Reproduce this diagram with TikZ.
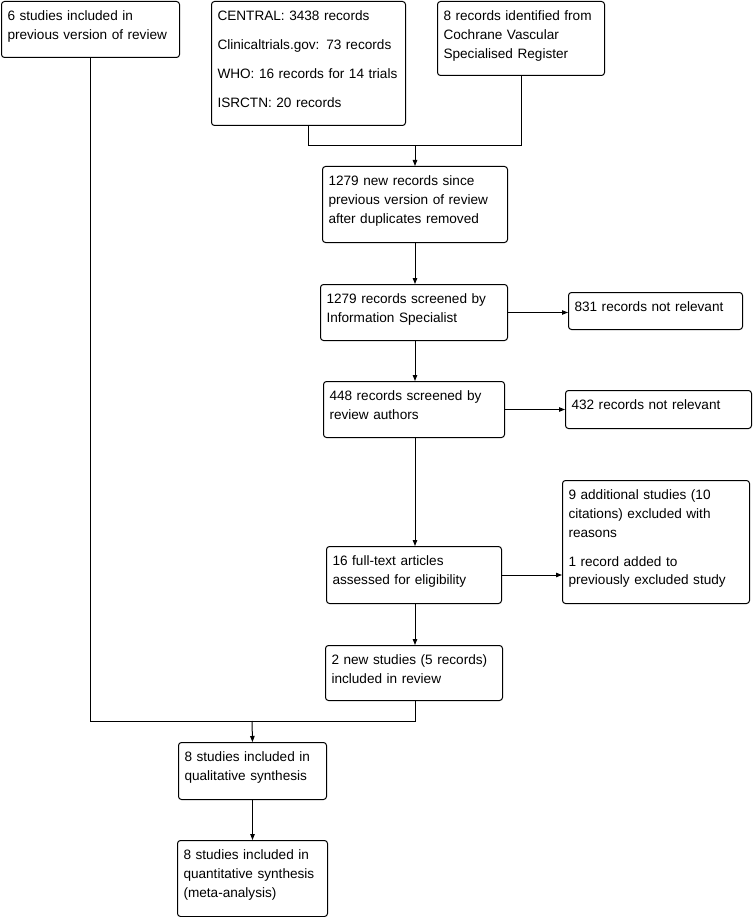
\documentclass[tikz,border=0pt]{standalone}
\usepackage{fontspec}
\setmainfont{Liberation Sans}
\usetikzlibrary{arrows.meta}

\begin{document}
\begin{tikzpicture}[x=1pt, y=-1pt, line width=1pt,
            >={Triangle[length=6pt,width=4.5pt]},
            box/.style 2 args={draw, rounded corners=3pt, anchor=north west,
                         align=left, inner xsep=6pt, inner ysep=0pt,
                         text width=#1, text height=19pt, text depth=#2,
                         font=\fontsize{13.6}{18.8}\selectfont}]
            \useasboundingbox (0,0) rectangle (754,917);

            % sources
            \node[box={166pt}{37pt}] (prev) at (1,1) {6 studies included in\\previous version of review};
            \node[box={182pt}{105pt}] (src) at (211,1) {CENTRAL: 3438 records\\[10.2pt]Clinicaltrials.gov: 73 records\\[10.2pt]WHO: 16 records for 14 trials\\[10.2pt]ISRCTN: 20 records};
            \node[box={155pt}{55pt}] (coch) at (437,1) {8 records identified from\\Cochrane Vascular\\Specialised Register};

            % screening column
            \node[box={173pt}{57pt}] (new) at (322,166) {1279 new records since\\previous version of review\\after duplicates removed};
            \node[box={175pt}{37pt}] (scr1) at (320,284) {1279 records screened by\\Information Specialist};
            \node[box={169pt}{37pt}] (scr2) at (323,381) {448 records screened by\\review authors};
            \node[box={163pt}{38pt}] (full) at (326,546) {16 full-text articles\\assessed for eligibility};
            \node[box={165pt}{36pt}] (incl) at (325,645) {2 new studies (5 records)\\included in review};

            % exclusions
            \node[box={162pt}{18pt}] (nr1) at (568,292) {831 records not relevant};
            \node[box={174pt}{19pt}] (nr2) at (565,390) {432 records not relevant};
            \node[box={175pt}{104pt}] (excl) at (562,480) {9 additional studies (10\\citations) excluded with\\reasons\\[10.2pt]1 record added to\\previously excluded study};

            % synthesis
            \node[box={136pt}{38pt}] (qual) at (178,742) {8 studies included in\\qualitative synthesis};
            \node[box={138pt}{57pt}] (quant) at (177,840) {8 studies included in\\quantitative synthesis\\(meta-analysis)};

            % junctions
            \coordinate (j1) at (415,146);
            \coordinate (j2) at (252,721);

            % flow
            \draw (src.south) |- (j1);
            \draw (coch.south) |- (j1);
            \draw[->] (j1) -- (j1 |- new.north);
            \draw[->] (j1 |- new.south) -- (j1 |- scr1.north);
            \draw[->] (j1 |- scr1.south) -- (j1 |- scr2.north);
            \draw[->] (j1 |- scr2.south) -- (j1 |- full.north);
            \draw[->] (j1 |- full.south) -- (j1 |- incl.north);
            \draw[->] (scr1.east) -- (scr1.east -| nr1.west);
            \draw[->] (scr2.east) -- (scr2.east -| nr2.west);
            \draw[->] (full.east) -- (full.east -| excl.west);
            \draw (prev.south) |- (j1 |- j2) -- (j1 |- incl.south);
            \draw[->] (j2) -- (qual.north);
            \draw[->] (qual.south) -- (quant.north);
        \end{tikzpicture}
\end{document}
